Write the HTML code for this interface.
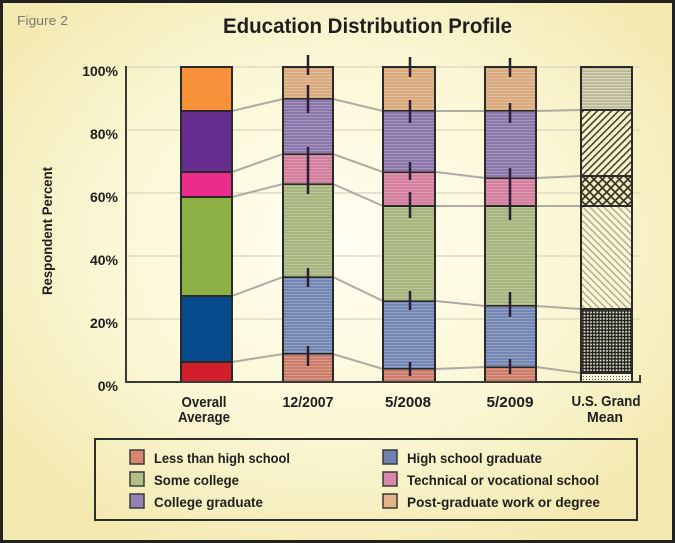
<!DOCTYPE html>
<html><head><meta charset="utf-8"><style>
html,body{margin:0;padding:0;background:#f6efbe;}
svg{display:block;}
text{font-family:"Liberation Sans",sans-serif;font-weight:bold;fill:#1e1e1e;}
</style></head><body>
<svg width="675" height="543" viewBox="0 0 675 543" xmlns="http://www.w3.org/2000/svg">
<defs>
<radialGradient id="bg" cx="50%" cy="45%" r="62%">
<stop offset="0" stop-color="#fffef3"/>
<stop offset="0.55" stop-color="#fbf7d6"/>
<stop offset="1" stop-color="#f3e9b0"/>
</radialGradient>
<pattern id="stripe" width="4" height="3" patternUnits="userSpaceOnUse">
<rect x="0" y="0" width="4" height="1" fill="#ffffff" fill-opacity="0.22"/>
</pattern>
<pattern id="hstr" width="4" height="3" patternUnits="userSpaceOnUse">
<rect width="4" height="3" fill="#bab697"/>
<rect y="0" width="4" height="1.2" fill="#dcd8bc"/>
</pattern>
<pattern id="fwd" width="5" height="5" patternUnits="userSpaceOnUse" patternTransform="rotate(45)">
<rect width="5" height="5" fill="#f8f3cc"/>
<rect x="0" y="0" width="1.6" height="5" fill="#45432a"/>
</pattern>
<pattern id="cross" width="6" height="6" patternUnits="userSpaceOnUse" patternTransform="rotate(45)">
<rect width="6" height="6" fill="#f2edc6"/>
<rect x="0" y="0" width="1.7" height="6" fill="#34321f"/>
<rect x="0" y="0" width="6" height="1.7" fill="#34321f"/>
</pattern>
<pattern id="bwd" width="5" height="5" patternUnits="userSpaceOnUse" patternTransform="rotate(-45)">
<rect width="5" height="5" fill="#faf6d6"/>
<rect x="0" y="0" width="1.3" height="5" fill="#a6a486"/>
</pattern>
<pattern id="grid" width="3.2" height="3.2" patternUnits="userSpaceOnUse">
<rect width="3.2" height="3.2" fill="#1e1e1a"/>
<rect x="1.2" y="1.2" width="1.8" height="1.8" fill="#e8e4cc"/>
</pattern>
<pattern id="dots" width="3" height="3" patternUnits="userSpaceOnUse">
<rect width="3" height="3" fill="#f8f4d8"/>
<rect x="1" y="1" width="1" height="1" fill="#555"/>
</pattern>
</defs>

<rect x="0" y="0" width="675" height="543" fill="url(#bg)"/>
<rect x="1.5" y="1.5" width="672" height="540" fill="none" stroke="#222" stroke-width="3"/>

<text x="17" y="25" font-size="13" textLength="51" lengthAdjust="spacingAndGlyphs" style="font-weight:normal;fill:#7a7a70">Figure 2</text>
<text x="223" y="33" font-size="21" textLength="289" lengthAdjust="spacingAndGlyphs">Education Distribution Profile</text>

<!-- gridlines -->
<g stroke="#dfdac2" stroke-width="1.5">
<line x1="126" y1="67" x2="640" y2="67"/>
<line x1="126" y1="130" x2="640" y2="130"/>
<line x1="126" y1="193" x2="640" y2="193"/>
<line x1="126" y1="256" x2="640" y2="256"/>
<line x1="126" y1="319" x2="640" y2="319"/>
</g>

<!-- y tick labels -->
<g font-size="14" text-anchor="end">
<text x="118" y="76">100%</text>
<text x="118" y="139">80%</text>
<text x="118" y="202">60%</text>
<text x="118" y="265">40%</text>
<text x="118" y="328">20%</text>
<text x="118" y="391">0%</text>
</g>
<text transform="translate(52,231) rotate(-90)" font-size="14" text-anchor="middle" textLength="128" lengthAdjust="spacingAndGlyphs">Respondent Percent</text>

<!-- connecting lines -->
<g stroke="#aeaca2" stroke-width="2" fill="none">
<polyline points="232,111 283,99 333,99 383,111 436,111 485,111 536,111 581,110"/>
<polyline points="232,172 283,154 333,154 383,172 436,172 485,178 536,178 581,176"/>
<polyline points="232,197 283,184 333,184 383,206 436,206 485,206 536,206 581,206"/>
<polyline points="232,296 283,277 333,277 383,301 436,301 485,306 536,306 581,309"/>
<polyline points="232,362 283,354 333,354 383,369 436,369 485,367 536,367 581,373"/>
</g>

<!-- Overall Average -->
<g stroke="#2a2a2a" stroke-width="2">
<rect x="181" y="67" width="51" height="44" fill="#f7923a"/>
<rect x="181" y="111" width="51" height="61" fill="#662d91"/>
<rect x="181" y="172" width="51" height="25" fill="#ec2c8c"/>
<rect x="181" y="197" width="51" height="99" fill="#8cb043"/>
<rect x="181" y="296" width="51" height="66" fill="#074b8c"/>
<rect x="181" y="362" width="51" height="20" fill="#d21f2b"/>
</g>

<!-- 12/2007 -->
<g stroke="#2a2a2a" stroke-width="2">
<rect x="283" y="67" width="50" height="32" fill="#d9aa7e"/>
<rect x="283" y="99" width="50" height="55" fill="#8c76aa"/>
<rect x="283" y="154" width="50" height="30" fill="#d27e9c"/>
<rect x="283" y="184" width="50" height="93" fill="#a6b67e"/>
<rect x="283" y="277" width="50" height="77" fill="#7486b2"/>
<rect x="283" y="354" width="50" height="28" fill="#cd7e6a"/>
</g>
<rect x="284" y="68" width="48" height="313" fill="url(#stripe)"/>

<!-- 5/2008 -->
<g stroke="#2a2a2a" stroke-width="2">
<rect x="383" y="67" width="52" height="44" fill="#d9aa7e"/>
<rect x="383" y="111" width="52" height="61" fill="#8c76aa"/>
<rect x="383" y="172" width="52" height="34" fill="#d27e9c"/>
<rect x="383" y="206" width="52" height="95" fill="#a6b67e"/>
<rect x="383" y="301" width="52" height="68" fill="#7486b2"/>
<rect x="383" y="369" width="52" height="13" fill="#cd7e6a"/>
</g>
<rect x="384" y="68" width="50" height="313" fill="url(#stripe)"/>

<!-- 5/2009 -->
<g stroke="#2a2a2a" stroke-width="2">
<rect x="485" y="67" width="51" height="44" fill="#d9aa7e"/>
<rect x="485" y="111" width="51" height="67" fill="#8c76aa"/>
<rect x="485" y="178" width="51" height="28" fill="#d27e9c"/>
<rect x="485" y="206" width="51" height="100" fill="#a6b67e"/>
<rect x="485" y="306" width="51" height="61" fill="#7486b2"/>
<rect x="485" y="367" width="51" height="15" fill="#cd7e6a"/>
</g>
<rect x="486" y="68" width="49" height="313" fill="url(#stripe)"/>

<!-- U.S. Grand Mean -->
<g stroke="#2a2a2a" stroke-width="2">
<rect x="581" y="67" width="51" height="43" fill="url(#hstr)"/>
<rect x="581" y="110" width="51" height="66" fill="url(#fwd)"/>
<rect x="581" y="176" width="51" height="30" fill="url(#cross)"/>
<rect x="581" y="206" width="51" height="103" fill="url(#bwd)"/>
<rect x="581" y="309" width="51" height="64" fill="url(#grid)"/>
<rect x="581" y="373" width="51" height="9" fill="url(#dots)"/>
</g>

<!-- error bars -->
<g stroke="#2a1e36" stroke-width="2.5">
<line x1="308" y1="55" x2="308" y2="75"/>
<line x1="308" y1="85" x2="308" y2="113"/>
<line x1="308" y1="147" x2="308" y2="194"/>
<line x1="308" y1="268" x2="308" y2="287"/>
<line x1="308" y1="346" x2="308" y2="366"/>
<line x1="410" y1="57" x2="410" y2="77"/>
<line x1="410" y1="100" x2="410" y2="123"/>
<line x1="410" y1="162" x2="410" y2="180"/>
<line x1="410" y1="192" x2="410" y2="218"/>
<line x1="410" y1="291" x2="410" y2="310"/>
<line x1="410" y1="362" x2="410" y2="376"/>
<line x1="510" y1="58" x2="510" y2="77"/>
<line x1="510" y1="103" x2="510" y2="123"/>
<line x1="510" y1="168" x2="510" y2="220"/>
<line x1="510" y1="292" x2="510" y2="317"/>
<line x1="510" y1="359" x2="510" y2="374"/>
</g>

<!-- axes -->
<g stroke="#3a3a36" stroke-width="2" fill="none">
<line x1="126" y1="66" x2="126" y2="383"/>
<polyline points="126,382 640,382 640,375"/>
</g>

<!-- category labels -->
<g font-size="15" text-anchor="middle">
<text x="204" y="407" textLength="45" lengthAdjust="spacingAndGlyphs">Overall</text>
<text x="204" y="422" textLength="52" lengthAdjust="spacingAndGlyphs">Average</text>
<text x="308" y="407" textLength="51" lengthAdjust="spacingAndGlyphs">12/2007</text>
<text x="408" y="407" textLength="46" lengthAdjust="spacingAndGlyphs">5/2008</text>
<text x="510" y="407" textLength="47" lengthAdjust="spacingAndGlyphs">5/2009</text>
<text x="606" y="406" textLength="69" lengthAdjust="spacingAndGlyphs">U.S. Grand</text>
<text x="605" y="422" textLength="36" lengthAdjust="spacingAndGlyphs">Mean</text>
</g>

<!-- legend -->
<rect x="95" y="439" width="542" height="81" fill="none" stroke="#2e2e2a" stroke-width="2"/>
<g stroke="#3a3a36" stroke-width="1.5">
<rect x="130" y="450" width="14" height="14" fill="#d88670"/>
<rect x="130" y="472" width="14" height="14" fill="#b2bf8a"/>
<rect x="130" y="494" width="14" height="14" fill="#9580b4"/>
<rect x="383" y="450" width="14" height="14" fill="#6e82b0"/>
<rect x="383" y="472" width="14" height="14" fill="#d888a8"/>
<rect x="383" y="494" width="14" height="14" fill="#e2b488"/>
</g>
<g font-size="14">
<text x="154" y="463" textLength="136" lengthAdjust="spacingAndGlyphs">Less than high school</text>
<text x="154" y="485" textLength="85" lengthAdjust="spacingAndGlyphs">Some college</text>
<text x="154" y="507" textLength="109" lengthAdjust="spacingAndGlyphs">College graduate</text>
<text x="407" y="463" textLength="135" lengthAdjust="spacingAndGlyphs">High school graduate</text>
<text x="407" y="485" textLength="192" lengthAdjust="spacingAndGlyphs">Technical or vocational school</text>
<text x="407" y="507" textLength="193" lengthAdjust="spacingAndGlyphs">Post-graduate work or degree</text>
</g>
</svg>
</body></html>
